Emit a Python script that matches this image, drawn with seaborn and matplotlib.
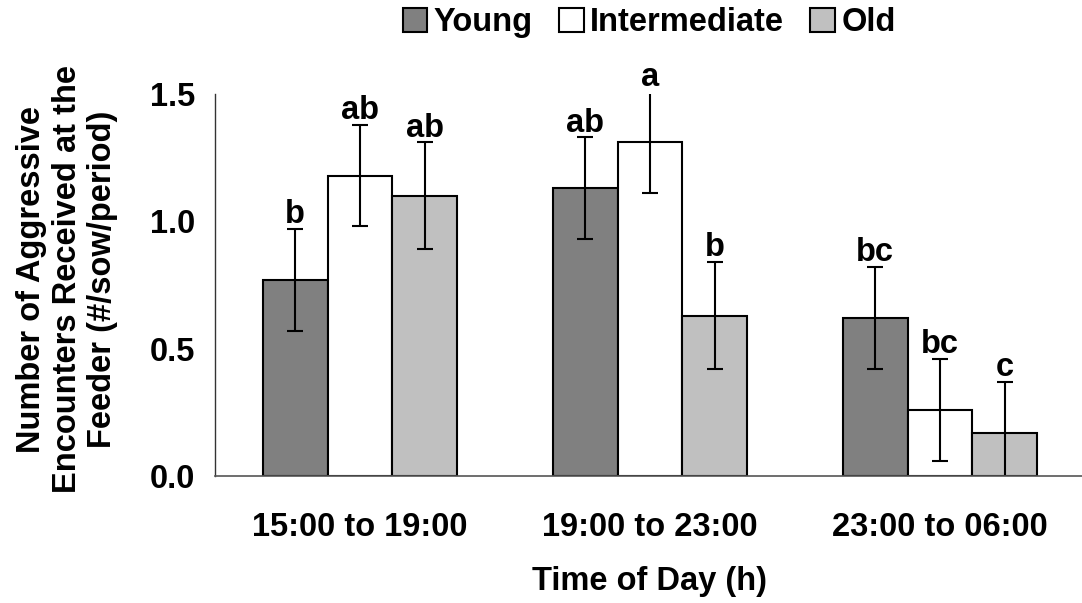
import pandas as pd
import matplotlib
matplotlib.use("Agg")
import matplotlib.pyplot as plt
import seaborn as sns

periods = ["15:00 to 19:00", "19:00 to 23:00", "23:00 to 06:00"]
ages = ["Young", "Intermediate", "Old"]
young = [0.77, 1.13, 0.62]
intermediate = [1.18, 1.31, 0.26]
old = [1.10, 0.63, 0.17]
young_se = [0.20, 0.20, 0.20]
intermediate_se = [0.20, 0.20, 0.20]
old_se = [0.21, 0.21, 0.20]
young_letters = ["b", "ab", "bc"]
intermediate_letters = ["ab", "a", "bc"]
old_letters = ["ab", "b", "c"]

colors = {"Young": "#808080", "Intermediate": "#ffffff", "Old": "#c0c0c0"}

df = pd.DataFrame({
    "period": periods * 3,
    "age": [a for a in ages for _ in periods],
    "value": young + intermediate + old,
})
se_by_age = [young_se, intermediate_se, old_se]
letters_by_age = [young_letters, intermediate_letters, old_letters]

sns.set_style("white")
plt.rcParams["font.family"] = ["Liberation Sans", "DejaVu Sans"]
plt.rcParams["font.weight"] = "bold"
plt.rcParams["text.color"] = "black"
plt.rcParams["axes.labelcolor"] = "black"
plt.rcParams["xtick.color"] = "black"
plt.rcParams["ytick.color"] = "black"

FS = 23.5

fig = plt.figure(figsize=(10.82, 6.03), dpi=100)
ax = fig.add_axes([0.1987, 0.2106, 0.804, 0.6335])

sns.barplot(data=df, x="period", y="value", hue="age", hue_order=ages,
            palette=colors, saturation=1, edgecolor="black", linewidth=1.5,
            width=0.67, errorbar=None, ax=ax)

# error bars and significance letters on top of each bar
for cont, ses, lets in zip(ax.containers, se_by_age, letters_by_age):
    for bar, se, lab in zip(cont, ses, lets):
        x = bar.get_x() + bar.get_width() / 2
        h = bar.get_height()
        ax.errorbar(x, h, yerr=se, fmt="none", ecolor="black",
                    elinewidth=1.5, capsize=5.5, capthick=1.5)
        ax.text(x, h + se - 0.005, lab, ha="center", va="bottom",
                fontsize=FS, fontweight="bold")

ax.set_xlim(-0.5, 2.5)
ax.set_ylim(0, 1.5)
ax.set_yticks([0, 0.5, 1.0, 1.5])
ax.set_yticklabels(["0.0", "0.5", "1.0", "1.5"])
ax.set_xticks([-0.5, 0.5, 1.5, 2.5], minor=True)
ax.tick_params(axis="x", which="major", length=0, pad=26, labelsize=FS)
ax.tick_params(axis="x", which="minor", length=7, width=1, direction="out",
               color="#333333")
ax.tick_params(axis="y", length=6, width=1, direction="out", pad=8,
               labelsize=FS, color="#333333")
for lab in ax.get_xticklabels() + ax.get_yticklabels():
    lab.set_fontweight("bold")

for s in ["top", "right"]:
    ax.spines[s].set_visible(False)
ax.spines["left"].set_color("#333333")
ax.spines["left"].set_linewidth(1)
ax.spines["bottom"].set_color("#555555")
ax.spines["bottom"].set_linewidth(1.2)

ax.set_xlabel("Time of Day (h)", fontsize=FS, fontweight="bold")
ax.xaxis.set_label_coords(0.5, -0.235)
ax.set_ylabel("")
fig.text(0.062, 0.537, "Number of Aggressive\nEncounters Received at the\nFeeder (#/sow/period)",
         rotation=90, ha="center", va="center", multialignment="center",
         fontsize=FS, fontweight="bold", linespacing=1.2)

handles, labels = ax.get_legend_handles_labels()
ax.legend_.remove()
fig.legend(handles, labels, loc="center", bbox_to_anchor=(0.60, 0.962),
           ncol=3, frameon=False, handlelength=0.75, handleheight=0.75,
           handletextpad=0.2, columnspacing=0.8,
           prop={"size": FS, "weight": "bold"})

fig.savefig("out.png", dpi=100)
